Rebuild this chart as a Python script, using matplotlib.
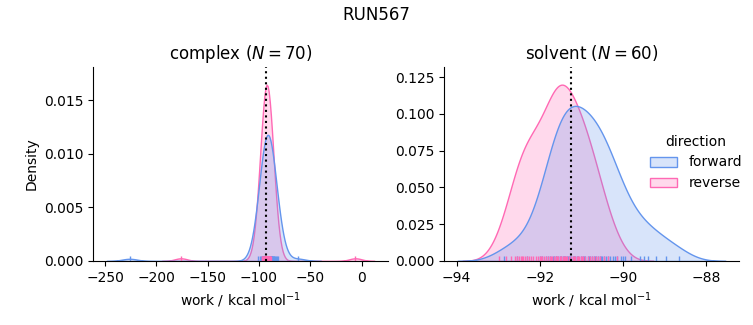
import pandas as pd
import matplotlib
matplotlib.use("Agg")
import matplotlib.pyplot as plt
import seaborn as sns

complex_forward = [
    -226.0, -62.0,
    -100.5, -99.0, -98.2, -97.5, -96.8, -96.3, -95.9, -95.5, -95.1, -94.8,
    -94.6, -94.5, -94.2, -94.0, -93.9, -93.8, -93.6, -93.4, -93.2, -93.1,
    -92.9, -92.8, -92.7, -92.6, -92.5, -92.4, -92.3, -92.2, -92.1, -91.9,
    -91.8, -91.7, -91.6, -91.5, -91.3, -91.2, -91.1, -90.9, -90.8, -90.6,
    -90.3, -90.1, -90.0, -89.8, -89.6, -89.4, -89.3, -89.0, -88.8, -88.7,
    -88.4, -88.2, -87.8, -87.6, -87.2, -87.0, -86.7, -86.2, -85.6, -85.0,
    -84.3, -83.5, -82.5, -81.2,
]
complex_reverse = [
    -176.0, -6.0,
    -97.5, -96.6, -96.0, -95.5, -95.1, -94.8, -94.5, -94.4, -94.2, -94.0,
    -93.8, -93.7, -93.6, -93.5, -93.4, -93.3, -93.25, -93.15, -93.1, -93.0,
    -92.95, -92.9, -92.85, -92.8, -92.75, -92.7, -92.65, -92.6, -92.55, -92.5,
    -92.45, -92.4, -92.35, -92.3, -92.25, -92.2, -92.15, -92.1, -92.05, -92.0,
    -91.95, -91.9, -91.85, -91.8, -91.75, -91.7, -91.65, -91.6, -91.55, -91.5,
    -91.45, -91.4, -91.3, -91.25, -91.2, -91.1, -91.0, -90.9, -90.8, -90.7,
    -90.6, -90.5, -90.2, -90.0, -89.9, -89.5, -89.0, -88.3,
]
solvent_forward = [
    -92.85, -92.55, -92.3, -92.0, -91.95, -91.85, -91.8, -91.75, -91.68, -91.65,
    -91.62, -91.6, -91.55, -91.52, -91.5, -91.45, -91.42, -91.4, -91.35, -91.32,
    -91.3, -91.28, -91.24, -91.2, -91.17, -91.14, -91.1, -91.07, -91.0, -90.97,
    -90.94, -90.9, -90.84, -90.82, -90.8, -90.74, -90.7, -90.67, -90.64, -90.6,
    -90.55, -90.52, -90.5, -90.45, -90.4, -90.35, -90.3, -90.25, -90.2, -90.15,
    -90.05, -90.0, -89.95, -89.8, -89.6, -89.5, -89.4, -89.2, -88.96, -88.66,
]
solvent_reverse = [
    -92.97, -92.8, -92.7, -92.6, -92.55, -92.5, -92.45, -92.42, -92.4, -92.35,
    -92.3, -92.25, -92.2, -92.15, -92.1, -92.05, -92.0, -91.98, -91.95, -91.9,
    -91.85, -91.8, -91.75, -91.72, -91.7, -91.65, -91.62, -91.6, -91.58, -91.55,
    -91.52, -91.5, -91.48, -91.45, -91.42, -91.4, -91.36, -91.35, -91.3, -91.25,
    -91.2, -91.18, -91.15, -91.1, -91.08, -91.05, -91.0, -90.98, -90.95, -90.9,
    -90.85, -90.8, -90.75, -90.7, -90.65, -90.6, -90.55, -90.45, -90.35, -90.15,
]

phases = ["complex", "solvent"]
n_samples = {"complex": 70, "solvent": 60}
estimates = {"complex": -92.8, "solvent": -91.25}  # dotted lines
colors = {"forward": "cornflowerblue", "reverse": "hotpink"}


def build_frame():
    rows = []
    for phase, direction, works in [
        ("complex", "forward", complex_forward),
        ("complex", "reverse", complex_reverse),
        ("solvent", "forward", solvent_forward),
        ("solvent", "reverse", solvent_reverse),
    ]:
        for w in works:
            rows.append({"phase": phase, "direction": direction, "work": w})
    return pd.DataFrame(rows)


df = build_frame()

g = sns.displot(
    data=df, x="work", hue="direction", col="phase", kind="kde",
    fill=True, rug=True, palette=colors,
    hue_order=["forward", "reverse"], col_order=phases,
    facet_kws=dict(sharex=False, sharey=False),
)

fig = g.figure
fig.set_size_inches(7.53, 3.25)

for ax, phase in zip(g.axes.flat, phases):
    ax.axvline(estimates[phase], color="k", ls=":", lw=1.5)
    ax.set_title(f"{phase} ($N={n_samples[phase]}$)")
    ax.set_xlabel("work / kcal mol$^{-1}$")

g.axes.flat[0].set_position([93 / 753, 64 / 325, 295 / 753, 194 / 325])
g.axes.flat[1].set_position([444 / 753, 64 / 325, 295 / 753, 194 / 325])
g.axes.flat[0].set_xticks([-250, -200, -150, -100, -50, 0])

old = g._legend
handles = old.legend_handles
labels = [t.get_text() for t in old.texts]
old.remove()
fig.legend(handles, labels, title="direction", frameon=False,
           loc="center left", bbox_to_anchor=(0.846, 0.5))

fig.suptitle("RUN567", y=0.98)
fig.savefig("out.png", dpi=100)
